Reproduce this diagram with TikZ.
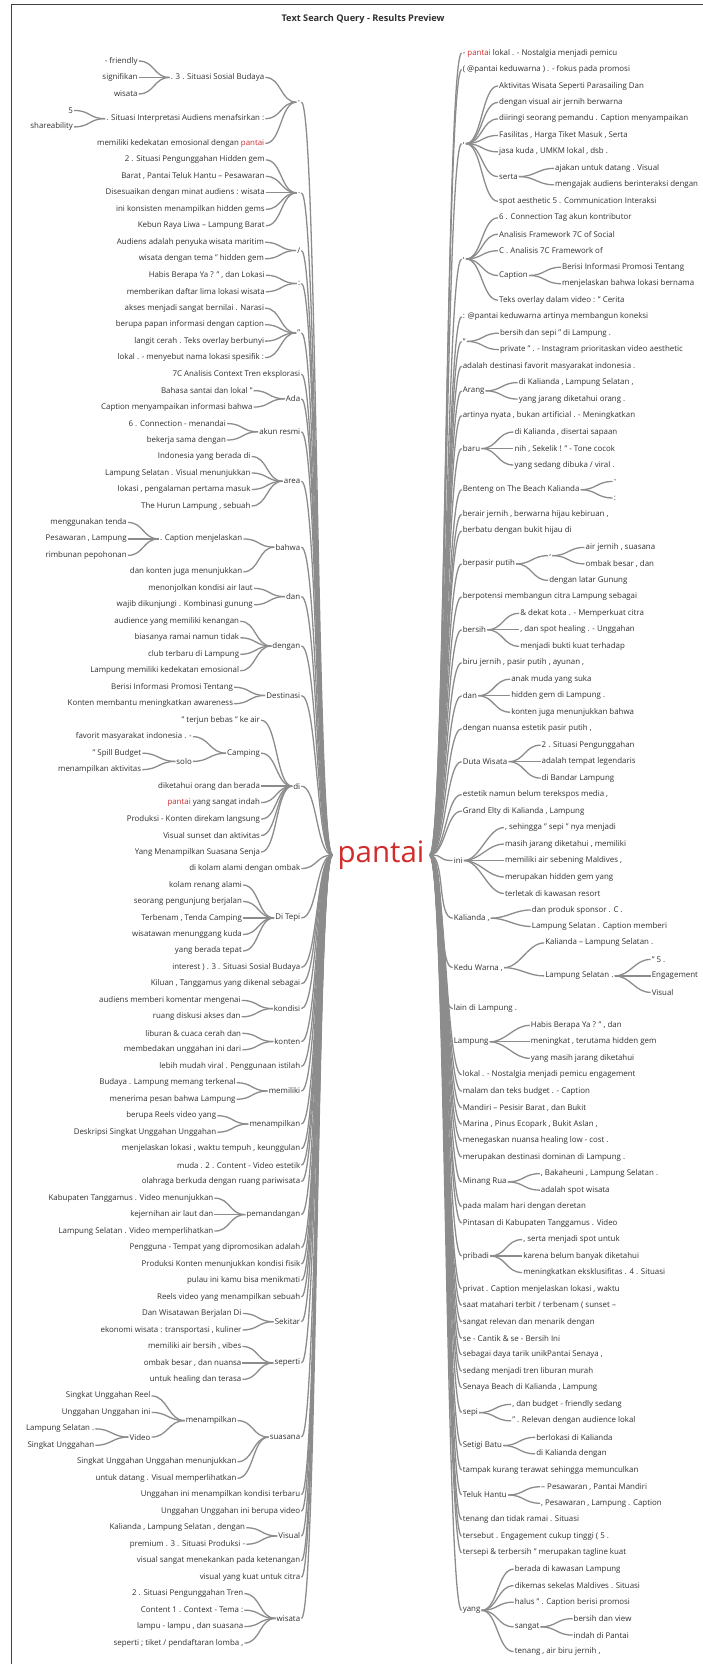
\documentclass[tikz,border=0pt]{standalone}
\usepackage{fontspec}
\setmainfont{Open Sans}
\usetikzlibrary{calc}

\definecolor{pantaired}{HTML}{D22B2B}
\definecolor{linkgray}{HTML}{8C8C8C}
\definecolor{wordgray}{HTML}{303030}

\tikzset{
  word/.style={font=\fontsize{7.9}{9}\selectfont, text=wordgray, inner sep=1pt},
  link/.style={draw=linkgray, line width=1.3pt},
}

\newcommand{\hl}[1]{\textcolor{pantaired}{#1}}
\newcommand{\gapL}{31}
\newcommand{\gapR}{32}

% слово слева от родителя: [зазор], имя, родитель, строка, текст
\newcommand{\lnode}[5][\gapL]{%
  \path (#3.west) ++(-#1,0) coordinate (tmpx);
  \coordinate (tmpy) at (0,{61+16.48*(#4-1)});
  \node[word, anchor=east] (#2) at (tmpx |- tmpy) {#5};
  \draw[link] (#2.east) .. controls +(16,0) and +(-16,0) .. (#3.west);
}
% слово справа от родителя
\newcommand{\rnode}[5][\gapR]{%
  \path (#3.east) ++(#1,0) coordinate (tmpx);
  \coordinate (tmpy) at (0,{53+16.48*(#4-1)});
  \node[word, anchor=west] (#2) at (tmpx |- tmpy) {#5};
  \draw[link] (#3.east) .. controls +(16,0) and +(-16,0) .. (#2.west);
}

\begin{document}
\begin{tikzpicture}[x=1pt, y=-1pt]
\useasboundingbox (0,0) rectangle (703,1664);
% Рамка и заголовок
\draw[black!75, line width=1pt] (11,1664) -- (11,5) -- (703,5);
\node[font=\bfseries\fontsize{9.2}{10}\selectfont, text=wordgray] (title) at (363,19) {Text Search Query - Results Preview};

% Корень
\node[font=\fontsize{29.5}{30}\selectfont, text=pantaired, inner sep=5pt] (root) at (381,855) {pantai};

% Левая часть
\lnode{l1}{root}{3.5}{-}
\lnode{l1a}{l1}{2}{. 3 . Situasi Sosial Budaya}
\lnode{l1a1}{l1a}{1}{- friendly}
\lnode{l1a2}{l1a}{2}{signifikan}
\lnode{l1a3}{l1a}{3}{wisata}
\lnode{l1b}{l1}{4.5}{. Situasi Interpretasi Audiens menafsirkan :}
\lnode{l1b1}{l1b}{4}{5}
\lnode{l1b2}{l1b}{5}{shareability}
\lnode{l1c}{l1}{6}{memiliki kedekatan emosional dengan \hl{pantai}}
\lnode{l2}{root}{9}{.}
\lnode{l2a}{l2}{7}{2 . Situasi Pengunggahan Hidden gem}
\lnode{l2b}{l2}{8}{Barat , Pantai Teluk Hantu – Pesawaran}
\lnode{l2c}{l2}{9}{Disesuaikan dengan minat audiens : wisata}
\lnode{l2d}{l2}{10}{ini konsisten menampilkan hidden gems}
\lnode{l2e}{l2}{11}{Kebun Raya Liwa – Lampung Barat}
\lnode{l3}{root}{12.5}{/}
\lnode{l3a}{l3}{12}{Audiens adalah penyuka wisata maritim}
\lnode{l3b}{l3}{13}{wisata dengan tema " hidden gem}
\lnode{l4}{root}{14.5}{:}
\lnode{l4a}{l4}{14}{Habis Berapa Ya ? " , dan Lokasi}
\lnode{l4b}{l4}{15}{memberikan daftar lima lokasi wisata}
\lnode{l5}{root}{17.5}{"}
\lnode{l5a}{l5}{16}{akses menjadi sangat bernilai . Narasi}
\lnode{l5b}{l5}{17}{berupa papan informasi dengan caption}
\lnode{l5c}{l5}{18}{langit cerah . Teks overlay berbunyi}
\lnode{l5d}{l5}{19}{lokal . - menyebut nama lokasi spesifik :}
\lnode{l6}{root}{20}{7C Analisis Context Tren eksplorasi}
\lnode{l7}{root}{21.5}{Ada}
\lnode{l7a}{l7}{21}{Bahasa santai dan lokal "}
\lnode{l7b}{l7}{22}{Caption menyampaikan informasi bahwa}
\lnode{l8}{root}{23.5}{akun resmi}
\lnode{l8a}{l8}{23}{6 . Connection - menandai}
\lnode{l8b}{l8}{24}{bekerja sama dengan}
\lnode{l9}{root}{26.5}{area}
\lnode{l9a}{l9}{25}{Indonesia yang berada di}
\lnode{l9b}{l9}{26}{Lampung Selatan . Visual menunjukkan}
\lnode{l9c}{l9}{27}{lokasi , pengalaman pertama masuk}
\lnode{l9d}{l9}{28}{The Hurun Lampung , sebuah}
\lnode{l10}{root}{30.5}{bahwa}
\lnode{l10a}{l10}{30}{. Caption menjelaskan}
\lnode{l10a1}{l10a}{29}{menggunakan tenda}
\lnode{l10a2}{l10a}{30}{Pesawaran , Lampung}
\lnode{l10a3}{l10a}{31}{rimbunan pepohonan}
\lnode{l10b}{l10}{32}{dan konten juga menunjukkan}
\lnode{l11}{root}{33.5}{dan}
\lnode{l11a}{l11}{33}{menonjolkan kondisi air laut}
\lnode{l11b}{l11}{34}{wajib dikunjungi . Kombinasi gunung}
\lnode{l12}{root}{36.5}{dengan}
\lnode{l12a}{l12}{35}{audience yang memiliki kenangan}
\lnode{l12b}{l12}{36}{biasanya ramai namun tidak}
\lnode{l12c}{l12}{37}{club terbaru di Lampung}
\lnode{l12d}{l12}{38}{Lampung memiliki kedekatan emosional}
\lnode{l13}{root}{39.5}{Destinasi}
\lnode{l13a}{l13}{39}{Berisi Informasi Promosi Tentang}
\lnode{l13b}{l13}{40}{Konten membantu meningkatkan awareness}
\lnode{l14}{root}{45}{di}
\lnode{l14a}{l14}{41}{" terjun bebas " ke air}
\lnode{l14b}{l14}{43}{Camping}
\lnode[33]{l14b1}{l14b}{42}{favorit masyarakat indonesia . -}
\lnode[33]{l14b2}{l14b}{43.5}{solo}
\lnode[33]{l14b2a}{l14b2}{43}{" Spill Budget}
\lnode[33]{l14b2b}{l14b2}{44}{menampilkan aktivitas}
\lnode{l14c}{l14}{45}{diketahui orang dan berada}
\lnode{l14d}{l14}{46}{\hl{pantai} yang sangat indah}
\lnode{l14e}{l14}{47}{Produksi - Konten direkam langsung}
\lnode{l14f}{l14}{48}{Visual sunset dan aktivitas}
\lnode{l14g}{l14}{49}{Yang Menampilkan Suasana Senja}
\lnode{l15}{root}{50}{di kolam alami dengan ombak}
\lnode{l16}{root}{53}{Di Tepi}
\lnode{l16a}{l16}{51}{kolam renang alami}
\lnode{l16b}{l16}{52}{seorang pengunjung berjalan}
\lnode{l16c}{l16}{53}{Terbenam , Tenda Camping}
\lnode{l16d}{l16}{54}{wisatawan menunggang kuda}
\lnode{l16e}{l16}{55}{yang berada tepat}
\lnode{l17}{root}{56}{interest ) . 3 . Situasi Sosial Budaya}
\lnode{l18}{root}{57}{Kiluan , Tanggamus yang dikenal sebagai}
\lnode{l19}{root}{58.5}{kondisi}
\lnode{l19a}{l19}{58}{audiens memberi komentar mengenai}
\lnode{l19b}{l19}{59}{ruang diskusi akses dan}
\lnode{l20}{root}{60.5}{konten}
\lnode{l20a}{l20}{60}{liburan \& cuaca cerah dan}
\lnode{l20b}{l20}{61}{membedakan unggahan ini dari}
\lnode{l21}{root}{62}{lebih mudah viral . Penggunaan istilah}
\lnode{l22}{root}{63.5}{memiliki}
\lnode{l22a}{l22}{63}{Budaya . Lampung memang terkenal}
\lnode{l22b}{l22}{64}{menerima pesan bahwa Lampung}
\lnode{l23}{root}{65.5}{menampilkan}
\lnode{l23a}{l23}{65}{berupa Reels video yang}
\lnode{l23b}{l23}{66}{Deskripsi Singkat Unggahan Unggahan}
\lnode{l24}{root}{67}{menjelaskan lokasi , waktu tempuh , keunggulan}
\lnode{l25}{root}{68}{muda . 2 . Content - Video estetik}
\lnode{l26}{root}{69}{olahraga berkuda dengan ruang pariwisata}
\lnode{l27}{root}{71}{pemandangan}
\lnode{l27a}{l27}{70}{Kabupaten Tanggamus . Video menunjukkan}
\lnode{l27b}{l27}{71}{kejernihan air laut dan}
\lnode{l27c}{l27}{72}{Lampung Selatan . Video memperlihatkan}
\lnode{l28}{root}{73}{Pengguna - Tempat yang dipromosikan adalah}
\lnode{l29}{root}{74}{Produksi Konten menunjukkan kondisi fisik}
\lnode{l30}{root}{75}{pulau ini kamu bisa menikmati}
\lnode{l31}{root}{76}{Reels video yang menampilkan sebuah}
\lnode{l32}{root}{77.5}{Sekitar}
\lnode{l32a}{l32}{77}{Dan Wisatawan Berjalan Di}
\lnode{l32b}{l32}{78}{ekonomi wisata : transportasi , kuliner}
\lnode{l33}{root}{80}{seperti}
\lnode{l33a}{l33}{79}{memiliki air bersih , vibes}
\lnode{l33b}{l33}{80}{ombak besar , dan nuansa}
\lnode{l33c}{l33}{81}{untuk healing dan terasa}
\lnode{l34}{root}{84.5}{suasana}
\lnode{l34a}{l34}{83.5}{menampilkan}
\lnode[33]{l34a1}{l34a}{82}{Singkat Unggahan Reel}
\lnode[33]{l34a2}{l34a}{83}{Unggahan Unggahan ini}
\lnode[33]{l34a3}{l34a}{84.5}{Video}
\lnode[33]{l34a3a}{l34a3}{84}{Lampung Selatan .}
\lnode[33]{l34a3b}{l34a3}{85}{Singkat Unggahan}
\lnode{l34b}{l34}{86}{Singkat Unggahan Unggahan menunjukkan}
\lnode{l34c}{l34}{87}{untuk datang . Visual memperlihatkan}
\lnode{l35}{root}{88}{Unggahan ini menampilkan kondisi terbaru}
\lnode{l36}{root}{89}{Unggahan Unggahan ini berupa video}
\lnode{l37}{root}{90.5}{Visual}
\lnode{l37a}{l37}{90}{Kalianda , Lampung Selatan , dengan}
\lnode{l37b}{l37}{91}{premium . 3 . Situasi Produksi -}
\lnode{l38}{root}{92}{visual sangat menekankan pada ketenangan}
\lnode{l39}{root}{93}{visual yang kuat untuk citra}
\lnode{l40}{root}{95.5}{wisata}
\lnode{l40a}{l40}{94}{2 . Situasi Pengunggahan Tren}
\lnode{l40b}{l40}{95}{Content 1 . Context - Tema :}
\lnode{l40c}{l40}{96}{lampu - lampu , dan suasana}
\lnode{l40d}{l40}{97}{seperti ; tiket / pendaftaran lomba ,}

% Правая часть
\rnode{r1}{root}{1}{- \hl{pantai} lokal . - Nostalgia menjadi pemicu}
\rnode{r2}{root}{2}{( @pantai keduwarna ) . - fokus pada promosi}
\rnode{r3}{root}{6.5}{,}
\rnode{r3a}{r3}{3}{Aktivitas Wisata Seperti Parasailing Dan}
\rnode{r3b}{r3}{4}{dengan visual air jernih berwarna}
\rnode{r3c}{r3}{5}{diiringi seorang pemandu . Caption menyampaikan}
\rnode{r3d}{r3}{6}{Fasilitas , Harga Tiket Masuk , Serta}
\rnode{r3e}{r3}{7}{jasa kuda , UMKM lokal , dsb .}
\rnode{r3f}{r3}{8.5}{serta}
\rnode[35]{r3f1}{r3f}{8}{ajakan untuk datang . Visual}
\rnode[35]{r3f2}{r3f}{9}{mengajak audiens berinteraksi dengan}
\rnode{r3g}{r3}{10}{spot aesthetic 5 . Communication Interaksi}
\rnode{r4}{root}{13.5}{,}
\rnode{r4a}{r4}{11}{6 . Connection Tag akun kontributor}
\rnode{r4b}{r4}{12}{Analisis Framework 7C of Social}
\rnode{r4c}{r4}{13}{C . Analisis 7C Framework of}
\rnode{r4d}{r4}{14.5}{Caption}
\rnode{r4d1}{r4d}{14}{Berisi Informasi Promosi Tentang}
\rnode{r4d2}{r4d}{15}{menjelaskan bahwa lokasi bernama}
\rnode{r4e}{r4}{16}{Teks overlay dalam video : " Cerita}
\rnode{r5}{root}{17}{: @pantai keduwarna artinya membangun koneksi}
\rnode{r6}{root}{18.5}{"}
\rnode{r6a}{r6}{18}{bersih dan sepi " di Lampung .}
\rnode{r6b}{r6}{19}{private " . - Instagram prioritaskan video aesthetic}
\rnode{r7}{root}{20}{adalah destinasi favorit masyarakat indonesia .}
\rnode{r8}{root}{21.5}{Arang}
\rnode{r8a}{r8}{21}{di Kalianda , Lampung Selatan ,}
\rnode{r8b}{r8}{22}{yang jarang diketahui orang .}
\rnode{r9}{root}{23}{artinya nyata , bukan artificial . - Meningkatkan}
\rnode{r10}{root}{25}{baru}
\rnode{r10a}{r10}{24}{di Kalianda , disertai sapaan}
\rnode{r10b}{r10}{25}{nih , Sekelik ! " - Tone cocok}
\rnode{r10c}{r10}{26}{yang sedang dibuka / viral .}
\rnode{r11}{root}{27.5}{Benteng on The Beach Kalianda}
\rnode{r11a}{r11}{27}{-}
\rnode{r11b}{r11}{28}{:}
\rnode{r12}{root}{29}{berair jernih , berwarna hijau kebiruan ,}
\rnode{r13}{root}{30}{berbatu dengan bukit hijau di}
\rnode{r14}{root}{32}{berpasir putih}
\rnode{r14a}{r14}{31.5}{,}
\rnode{r14a1}{r14a}{31}{air jernih , suasana}
\rnode{r14a2}{r14a}{32}{ombak besar , dan}
\rnode{r14b}{r14}{33}{dengan latar Gunung}
\rnode{r15}{root}{34}{berpotensi membangun citra Lampung sebagai}
\rnode{r16}{root}{36}{bersih}
\rnode{r16a}{r16}{35}{\& dekat kota . - Memperkuat citra}
\rnode{r16b}{r16}{36}{, dan spot healing . - Unggahan}
\rnode{r16c}{r16}{37}{menjadi bukti kuat terhadap}
\rnode{r17}{root}{38}{biru jernih , pasir putih , ayunan ,}
\rnode{r18}{root}{40}{dan}
\rnode{r18a}{r18}{39}{anak muda yang suka}
\rnode{r18b}{r18}{40}{hidden gem di Lampung .}
\rnode{r18c}{r18}{41}{konten juga menunjukkan bahwa}
\rnode{r19}{root}{42}{dengan nuansa estetik pasir putih ,}
\rnode{r20}{root}{44}{Duta Wisata}
\rnode{r20a}{r20}{43}{2 . Situasi Pengunggahan}
\rnode{r20b}{r20}{44}{adalah tempat legendaris}
\rnode{r20c}{r20}{45}{di Bandar Lampung}
\rnode{r21}{root}{46}{estetik namun belum terekspos media ,}
\rnode{r22}{root}{47}{Grand Elty di Kalianda , Lampung}
% у корня слова сдвинуты левее
\rnode[23]{r23}{root}{50}{ini}
\rnode[40]{r23a}{r23}{48}{, sehingga " sepi " nya menjadi}
\rnode[40]{r23b}{r23}{49}{masih jarang diketahui , memiliki}
\rnode[40]{r23c}{r23}{50}{memiliki air sebening Maldives ,}
\rnode[40]{r23d}{r23}{51}{merupakan hidden gem yang}
\rnode[40]{r23e}{r23}{52}{terletak di kawasan resort}
\rnode[23]{r24}{root}{53.5}{Kalianda ,}
\rnode[40]{r24a}{r24}{53}{dan produk sponsor . C .}
\rnode[40]{r24b}{r24}{54}{Lampung Selatan . Caption memberi}
\rnode[23]{r25}{root}{56.5}{Kedu Warna ,}
\rnode[40]{r25a}{r25}{55}{Kalianda – Lampung Selatan .}
\rnode[40]{r25b}{r25}{57}{Lampung Selatan .}
\rnode[36]{r25b1}{r25b}{56}{" 5 .}
\rnode[36]{r25b2}{r25b}{57}{Engagement}
\rnode[36]{r25b3}{r25b}{58}{Visual}
\rnode[23]{r26}{root}{59}{lain di Lampung .}
\rnode[23]{r27}{root}{61}{Lampung}
\rnode[40]{r27a}{r27}{60}{Habis Berapa Ya ? " , dan}
\rnode[40]{r27b}{r27}{61}{meningkat , terutama hidden gem}
\rnode[40]{r27c}{r27}{62}{yang masih jarang diketahui}
\rnode{r28}{root}{63}{lokal . - Nostalgia menjadi pemicu engagement}
\rnode{r29}{root}{64}{malam dan teks budget . - Caption}
\rnode{r30}{root}{65}{Mandiri – Pesisir Barat , dan Bukit}
\rnode{r31}{root}{66}{Marina , Pinus Ecopark , Bukit Aslan ,}
\rnode{r32}{root}{67}{menegaskan nuansa healing low - cost .}
\rnode{r33}{root}{68}{merupakan destinasi dominan di Lampung .}
\rnode{r34}{root}{69.5}{Minang Rua}
\rnode{r34a}{r34}{69}{, Bakaheuni , Lampung Selatan .}
\rnode{r34b}{r34}{70}{adalah spot wisata}
\rnode{r35}{root}{71}{pada malam hari dengan deretan}
\rnode{r36}{root}{72}{Pintasan di Kabupaten Tanggamus . Video}
\rnode{r37}{root}{74}{pribadi}
\rnode{r37a}{r37}{73}{, serta menjadi spot untuk}
\rnode{r37b}{r37}{74}{karena belum banyak diketahui}
\rnode{r37c}{r37}{75}{meningkatkan eksklusifitas . 4 . Situasi}
\rnode{r38}{root}{76}{privat . Caption menjelaskan lokasi , waktu}
\rnode{r39}{root}{77}{saat matahari terbit / terbenam ( sunset –}
\rnode{r40}{root}{78}{sangat relevan dan menarik dengan}
\rnode{r41}{root}{79}{se - Cantik \& se - Bersih Ini}
\rnode{r42}{root}{80}{sebagai daya tarik unikPantai Senaya ,}
\rnode{r43}{root}{81}{sedang menjadi tren liburan murah}
\rnode{r44}{root}{82}{Senaya Beach di Kalianda , Lampung}
\rnode{r45}{root}{83.5}{sepi}
\rnode{r45a}{r45}{83}{, dan budget - friendly sedang}
\rnode{r45b}{r45}{84}{" . Relevan dengan audience lokal}
\rnode{r46}{root}{85.5}{Setigi Batu}
\rnode{r46a}{r46}{85}{berlokasi di Kalianda}
\rnode{r46b}{r46}{86}{di Kalianda dengan}
\rnode{r47}{root}{87}{tampak kurang terawat sehingga memunculkan}
\rnode{r48}{root}{88.5}{Teluk Hantu}
\rnode{r48a}{r48}{88}{– Pesawaran , Pantai Mandiri}
\rnode{r48b}{r48}{89}{, Pesawaran , Lampung . Caption}
\rnode{r49}{root}{90}{tenang dan tidak ramai . Situasi}
\rnode{r50}{root}{91}{tersebut . Engagement cukup tinggi ( 5 .}
\rnode{r51}{root}{92}{tersepi \& terbersih " merupakan tagline kuat}
\rnode{r52}{root}{95.5}{yang}
\rnode{r52a}{r52}{93}{berada di kawasan Lampung}
\rnode{r52b}{r52}{94}{dikemas sekelas Maldives . Situasi}
\rnode{r52c}{r52}{95}{halus " . Caption berisi promosi}
\rnode{r52d}{r52}{96.5}{sangat}
\rnode{r52d1}{r52d}{96}{bersih dan view}
\rnode{r52d2}{r52d}{97}{indah di Pantai}
\rnode{r52e}{r52}{98}{tenang , air biru jernih ,}
\end{tikzpicture}
\end{document}
